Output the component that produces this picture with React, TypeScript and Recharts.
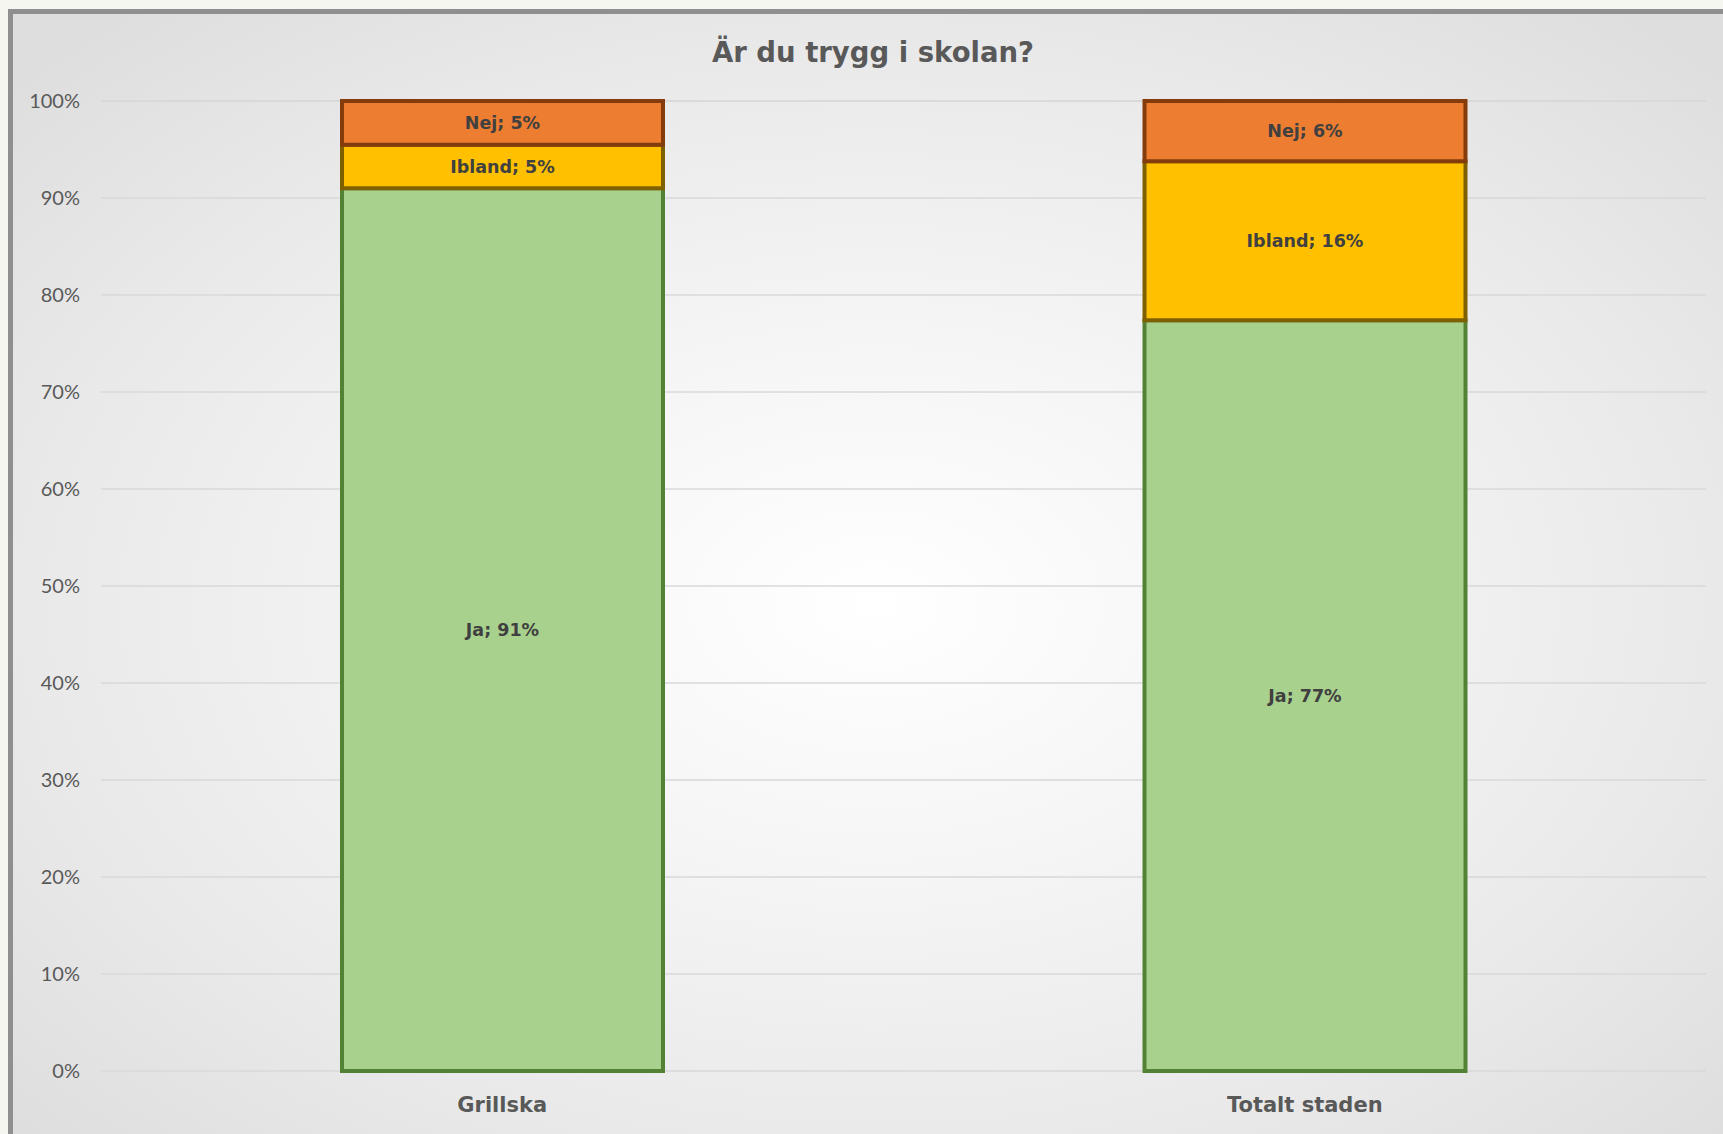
import React from 'react';
import { BarChart, Bar, XAxis, YAxis, CartesianGrid, LabelList } from 'recharts';

const categories = ['Grillska', 'Totalt staden'];
const jaValues = [91.0, 77.4];
const iblandValues = [4.5, 16.4];
const nejValues = [4.5, 6.2];
const yTicks = [0, 10, 20, 30, 40, 50, 60, 70, 80, 90, 100];
const title = 'Är du trygg i skolan?';

const data = categories.map((name, i) => ({
  name,
  ja: jaValues[i],
  ibland: iblandValues[i],
  nej: nejValues[i],
}));

const FONT = '"DejaVu Sans", Lato, sans-serif';
const TICKFONT = 'Lato, "Open Sans", sans-serif';
const labelStyle = { fill: '#404040', fontSize: 17.5, fontWeight: 700, fontFamily: FONT };

export default function App() {
  return (
    <div
      style={{
        position: 'fixed',
        left: 0,
        top: 0,
        width: 1723,
        height: 1134,
        overflow: 'hidden',
        background: '#f6f6f1',
      }}
    >
      <div
        style={{
          position: 'absolute',
          left: 8,
          top: 9,
          width: 1730,
          height: 1140,
          boxSizing: 'border-box',
          borderTop: '5px solid #8f8f8f',
          borderLeft: '5px solid #8f8f8f',
          background:
            'radial-gradient(ellipse 68% 68% at 50% 52%, #ffffff 0%, #f5f5f5 35%, #e9e9e9 72%, #dedede 100%)',
        }}
      />
      <div
        style={{
          position: 'absolute',
          left: 0,
          top: 38,
          width: 1746,
          textAlign: 'center',
          fontFamily: FONT,
          fontWeight: 700,
          fontSize: 27.5,
          lineHeight: '28px',
          color: '#595959',
        }}
      >
        {title}
      </div>
      <div style={{ position: 'absolute', left: 0, top: 0 }}>
        <BarChart
          width={1723}
          height={1134}
          data={data}
          margin={{ top: 101, right: 17, bottom: 0, left: 0 }}
        >
          <CartesianGrid vertical={false} stroke="#d9d9d9" strokeWidth={1.5} />
          <XAxis
            dataKey="name"
            axisLine={false}
            tickLine={false}
            height={63}
            tickSize={0}
            tickMargin={26}
            tick={{ fill: '#595959', fontSize: 21, fontWeight: 700, fontFamily: FONT }}
          />
          <YAxis
            type="number"
            domain={[0, 100]}
            ticks={yTicks}
            width={101}
            axisLine={false}
            tickLine={false}
            tickSize={0}
            tickMargin={21}
            tickFormatter={(v: number) => `${v}%`}
            tick={{ fill: '#595959', fontSize: 20, fontFamily: TICKFONT }}
          />
          <Bar dataKey="ja" stackId="a" fill="#a9d18e" stroke="#548235" strokeWidth={4} barSize={321} isAnimationActive={false}>
            <LabelList dataKey="ja" position="center" formatter={(v: number) => `Ja; ${Math.round(v)}%`} style={labelStyle} />
          </Bar>
          <Bar dataKey="ibland" stackId="a" fill="#ffc000" stroke="#7f6000" strokeWidth={4} barSize={321} isAnimationActive={false}>
            <LabelList dataKey="ibland" position="center" formatter={(v: number) => `Ibland; ${Math.round(v)}%`} style={labelStyle} />
          </Bar>
          <Bar dataKey="nej" stackId="a" fill="#ed7d31" stroke="#843c0c" strokeWidth={4} barSize={321} isAnimationActive={false}>
            <LabelList dataKey="nej" position="center" formatter={(v: number) => `Nej; ${Math.round(v)}%`} style={labelStyle} />
          </Bar>
        </BarChart>
      </div>
    </div>
  );
}
